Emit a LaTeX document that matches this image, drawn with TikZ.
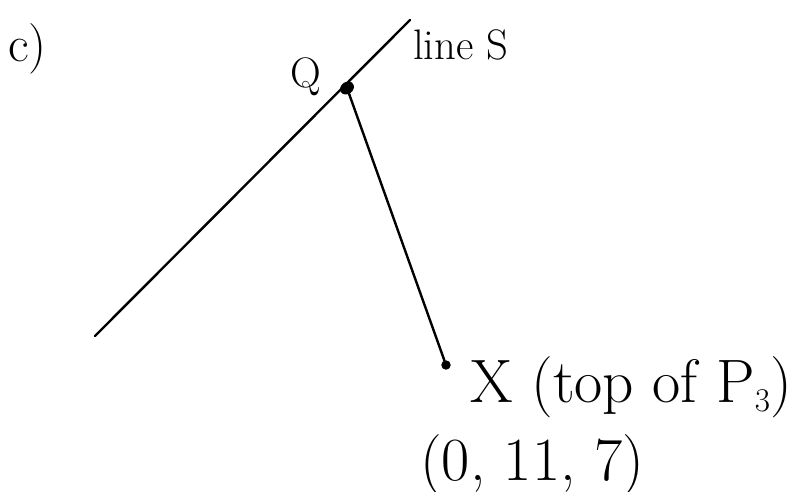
\documentclass[tikz,border=0pt]{standalone}
\usetikzlibrary{shapes.geometric}
\begin{document}
\begin{tikzpicture}[x=0.75pt,y=-0.75pt,
  ink/.style={line width=1.8pt, line cap=round},
  dot/.style={ellipse, fill=black, draw=black, line width=1pt, inner sep=0pt, minimum width=10pt, minimum height=8pt},
  smalldot/.style={circle, fill=black, draw=black, line width=1pt, inner sep=0pt, minimum size=6pt},
  hand/.style={inner sep=0pt, anchor=base west}]
\useasboundingbox (0,0) rectangle (811,492);
\coordinate (S1) at (95,336);
\coordinate (S2) at (410,20);
\draw[ink] (S1) -- (S2);
\node[dot, rotate=35] (Q) at (347,88) {};
\node[smalldot] (X) at (446,365) {};
\draw[ink] (Q) -- (X);
\node[hand, font=\fontsize{38}{42}\selectfont] (c) at (8,62) {c)};
\node[hand, font=\fontsize{32}{36}\selectfont] (qlab) at (290,88) {Q};
\node[hand, font=\fontsize{32}{36}\selectfont] (slab) at (413,60) {line S};
\node[hand, font=\fontsize{46}{50}\selectfont] (xlab) at (470,402) {X (top of P$_3$)};
\node[hand, font=\fontsize{46}{50}\selectfont] (coord) at (420,480) {(0, 11, 7)};
\end{tikzpicture}
\end{document}
